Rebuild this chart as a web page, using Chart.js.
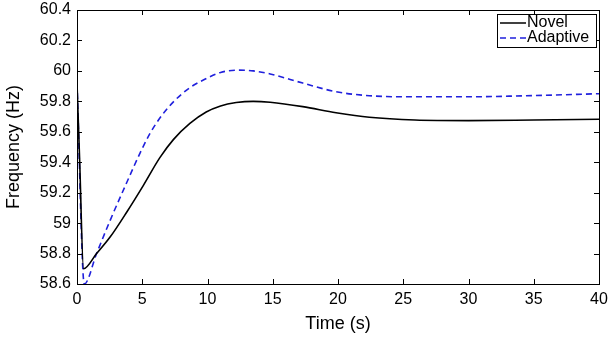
<!DOCTYPE html>
<html><head><meta charset="utf-8">
<script src="https://cdn.jsdelivr.net/npm/chart.js@4"></script>
<style>html,body{margin:0;padding:0;background:#fff;overflow:hidden}#wrap{width:611px;height:338px}</style>
</head><body><div id="wrap"><canvas id="c" width="611" height="338"></canvas></div>
<script>
const seriesNames = ['Novel', 'Adaptive'];
const novelTime = [0, 0.2, 0.5, 1.5, 2.55, 3.83, 5.1, 6.35, 7.4, 8.65, 9.9, 11.0, 12.2, 13.5, 14.8, 17.3, 19.85, 22.4, 25.9, 30, 35, 40];
const novelFreq = [59.92, 59.42, 58.70, 58.80, 58.91, 59.075, 59.25, 59.43, 59.55, 59.655, 59.73, 59.77, 59.792, 59.80, 59.794, 59.765, 59.725, 59.695, 59.677, 59.673, 59.677, 59.682];
const adaptiveTime = [0, 0.56, 1.5, 2.55, 3.83, 4.83, 5.6, 6.35, 7.37, 8.65, 9.92, 11.0, 12.4, 13.5, 14.8, 17.3, 19.85, 22.4, 24.9, 30, 35, 40];
const adaptiveFreq = [59.92, 58.60, 58.80, 59.02, 59.27, 59.46, 59.59, 59.69, 59.795, 59.89, 59.95, 59.99, 60.005, 60.0, 59.98, 59.92, 59.863, 59.837, 59.83, 59.83, 59.838, 59.85];
const xTicks = [0, 5, 10, 15, 20, 25, 30, 35, 40];
const yTicks = [58.6, 58.8, 59, 59.2, 59.4, 59.6, 59.8, 60, 60.2, 60.4];
const yTickLabels = ['58.6', '58.8', '59', '59.2', '59.4', '59.6', '59.8', '60', '60.2', '60.4'];

const FONT = 'Liberation Sans, Arial, Helvetica, sans-serif';
const pts = (t, f) => t.map((v, i) => ({x: v, y: f[i]}));

const frame = {
  id: 'frame',
  afterDraw(chart) {
    const ctx = chart.ctx, a = chart.chartArea, xs = chart.scales.x, ys = chart.scales.y;
    ctx.save();
    ctx.strokeStyle = '#000'; ctx.lineWidth = 1;
    ctx.strokeRect(Math.round(a.left) + 0.5, Math.round(a.top) + 0.5, Math.round(a.right - a.left), Math.round(a.bottom - a.top));
    const L = 5;
    ctx.beginPath();
    xTicks.forEach(v => {
      const px = Math.round(xs.getPixelForValue(v)) + 0.5;
      ctx.moveTo(px, a.bottom); ctx.lineTo(px, a.bottom - L);
      ctx.moveTo(px, a.top); ctx.lineTo(px, a.top + L);
    });
    yTicks.forEach(v => {
      const py = Math.round(ys.getPixelForValue(v)) + 0.5;
      ctx.moveTo(a.left, py); ctx.lineTo(a.left + L, py);
      ctx.moveTo(a.right, py); ctx.lineTo(a.right - L, py);
    });
    ctx.stroke();
    // legend
    const bx = 497.5, by = 14.5, bw = 99, bh = 33;
    ctx.fillStyle = '#fff'; ctx.fillRect(bx, by, bw, bh);
    ctx.strokeRect(bx, by, bw, bh);
    const ds = chart.data.datasets;
    const rows = [23, 38];
    ds.forEach((d, i) => {
      ctx.beginPath();
      ctx.strokeStyle = d.borderColor; ctx.lineWidth = 1.5;
      ctx.setLineDash(d.borderDash || []);
      ctx.moveTo(500, rows[i]); ctx.lineTo(526, rows[i]); ctx.stroke();
      ctx.setLineDash([]);
      ctx.fillStyle = '#000'; ctx.font = '16px ' + FONT;
      ctx.textBaseline = 'middle'; ctx.textAlign = 'left';
      ctx.fillText(d.label, 527, rows[i]);
    });
    ctx.restore();
  }
};

new Chart(document.getElementById('c'), {
  type: 'line',
  data: {
    datasets: [
      {label: seriesNames[0], data: pts(novelTime, novelFreq), borderColor: '#000', borderWidth: 1.6, pointRadius: 0, cubicInterpolationMode: 'monotone', fill: false},
      {label: seriesNames[1], data: pts(adaptiveTime, adaptiveFreq), borderColor: '#2020dd', borderWidth: 1.6, borderDash: [6, 4], pointRadius: 0, cubicInterpolationMode: 'monotone', fill: false}
    ]
  },
  options: {
    responsive: false, animation: false, devicePixelRatio: 1,
    layout: {padding: {top: 10, right: 12, left: 0, bottom: 0}},
    plugins: {legend: {display: false}, tooltip: {enabled: false}},
    scales: {
      x: {
        type: 'linear', min: 0, max: 40,
        afterBuildTicks: s => { s.ticks = xTicks.map(v => ({value: v})); },
        afterFit: s => { s.height = 54; s.paddingLeft = 0; s.paddingRight = 0; },
        grid: {display: false, drawTicks: false}, border: {display: false},
        ticks: {color: '#000', font: {family: FONT, size: 16}, padding: 6, maxRotation: 0, autoSkip: false},
        title: {display: true, text: 'Time (s)', color: '#000', font: {family: FONT, size: 18}, padding: {top: 4, bottom: 3}}
      },
      y: {
        type: 'linear', min: 58.6, max: 60.4,
        afterBuildTicks: s => { s.ticks = yTicks.map(v => ({value: v})); },
        afterFit: s => { s.width = 77; s.paddingTop = 0; s.paddingBottom = 0; },
        grid: {display: false, drawTicks: false}, border: {display: false},
        ticks: {color: '#000', font: {family: FONT, size: 16}, padding: 6, autoSkip: false,
          callback: (v) => { const i = yTicks.findIndex(t => Math.abs(t - v) < 1e-6); return i >= 0 ? yTickLabels[i] : ''; }},
        title: {display: true, text: 'Frequency (Hz)', color: '#000', font: {family: FONT, size: 18}, padding: {top: 3, bottom: 0}}
      }
    }
  },
  plugins: [frame]
});
</script></body></html>
